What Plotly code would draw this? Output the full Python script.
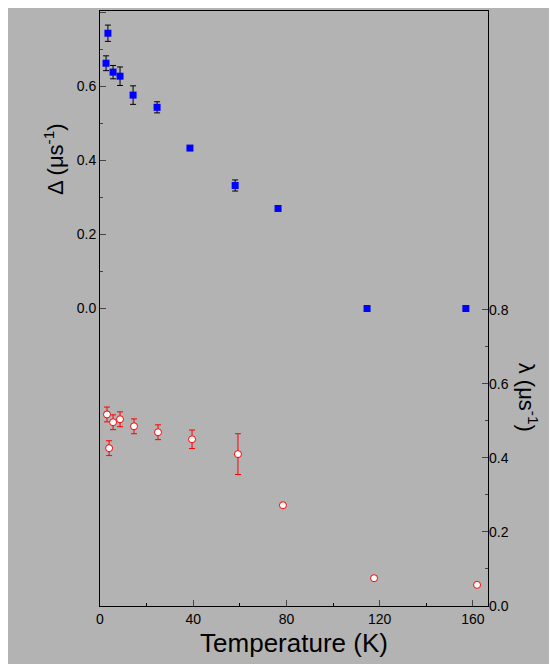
import plotly.graph_objects as go

T_delta = [3.4, 2.6, 5.6, 8.6, 14.2, 24.5, 38.6, 58.0, 76.4, 114.6, 157.0]
delta = [0.743, 0.662, 0.638, 0.627, 0.576, 0.543, 0.433, 0.332, 0.270, 0.0, 0.0]
delta_err = [0.022, 0.02, 0.018, 0.025, 0.025, 0.015, 0.0, 0.015, 0.0, 0.0, 0.0]

T_lam = [3.0, 3.9, 5.6, 8.6, 14.6, 24.9, 39.5, 59.2, 78.5, 117.6, 161.8]
lam = [0.517, 0.426, 0.496, 0.504, 0.485, 0.469, 0.450, 0.410, 0.272, 0.075, 0.057]
lam_err = [0.02, 0.02, 0.02, 0.02, 0.02, 0.02, 0.025, 0.055, 0.0, 0.0, 0.0]

xticks = [0, 40, 80, 120, 160]
ytick_vals = [0.0, 0.2, 0.4, 0.6, 0.8]
ytick_text = ["0.0", "0.2", "0.4", "0.6", "0.8"]
yminor_vals = [0.1, 0.3, 0.5, 0.7]

fig = go.Figure()
fig.add_trace(go.Scatter(x=T_delta, y=delta, mode="markers",
    marker=dict(symbol="square", size=7, color="#0000ff"),
    error_y=dict(type="data", array=delta_err, color="#000000", thickness=1, width=3),
    yaxis="y"))
fig.add_trace(go.Scatter(x=T_lam, y=lam, mode="markers",
    marker=dict(symbol="circle", size=7, color="white", line=dict(color="#ff0000", width=1)),
    error_y=dict(type="data", array=lam_err, color="#ff0000", thickness=1, width=3),
    yaxis="y2"))

font = dict(family="Liberation Sans, Arial", size=14, color="black")
lo, hi = -0.803, 0.803
fig.update_layout(
    width=557, height=664, showlegend=False,
    paper_bgcolor="#b3b3b3", plot_bgcolor="#b3b3b3",
    margin=dict(l=92, r=77, t=3, b=66, autoexpand=False),
    font=font,
    xaxis=dict(range=[0, 166.5], tickvals=xticks, ticks="inside", ticklen=6, automargin=False,
               showline=True, linecolor="black", mirror=True, showgrid=False, zeroline=False,
               minor=dict(dtick=20, ticks="inside", ticklen=3, tickcolor="black"),
               title=dict(text="Temperature (K)", font=dict(size=26), standoff=8)),
    yaxis=dict(range=[lo, hi], tickvals=ytick_vals, ticktext=ytick_text, ticks="inside",
               ticklen=6, showline=True, linecolor="black", mirror=True, showgrid=False,
               zeroline=False, automargin=False),
    yaxis2=dict(range=[0, hi - lo], overlaying="y", side="right", tickvals=ytick_vals,
                ticktext=ytick_text, ticks="inside", ticklen=6, showgrid=False,
                zeroline=False, automargin=False),
    yaxis3=dict(range=[lo, hi], overlaying="y", side="left", tickvals=yminor_vals,
                showticklabels=False, ticks="inside", ticklen=3, showgrid=False,
                zeroline=False, automargin=False),
    yaxis4=dict(range=[0, hi - lo], overlaying="y", side="right", tickvals=yminor_vals,
                showticklabels=False, ticks="inside", ticklen=3, showgrid=False,
                zeroline=False, automargin=False),
)
# invisible traces so the minor-tick axes render
fig.add_trace(go.Scatter(x=[None], y=[None], yaxis="y3", showlegend=False))
fig.add_trace(go.Scatter(x=[None], y=[None], yaxis="y4", showlegend=False))
fig.add_annotation(text="Δ (μs<sup>-1</sup>)", xref="paper", yref="paper", x=-0.16, y=0.815,
                   textangle=-90, showarrow=False, font=dict(size=22))
fig.add_annotation(text="λ (μs<sup>-1</sup>)", xref="paper", yref="paper", x=1.145, y=0.29,
                   textangle=90, showarrow=False, font=dict(size=22))
fig.write_html("out.html")
